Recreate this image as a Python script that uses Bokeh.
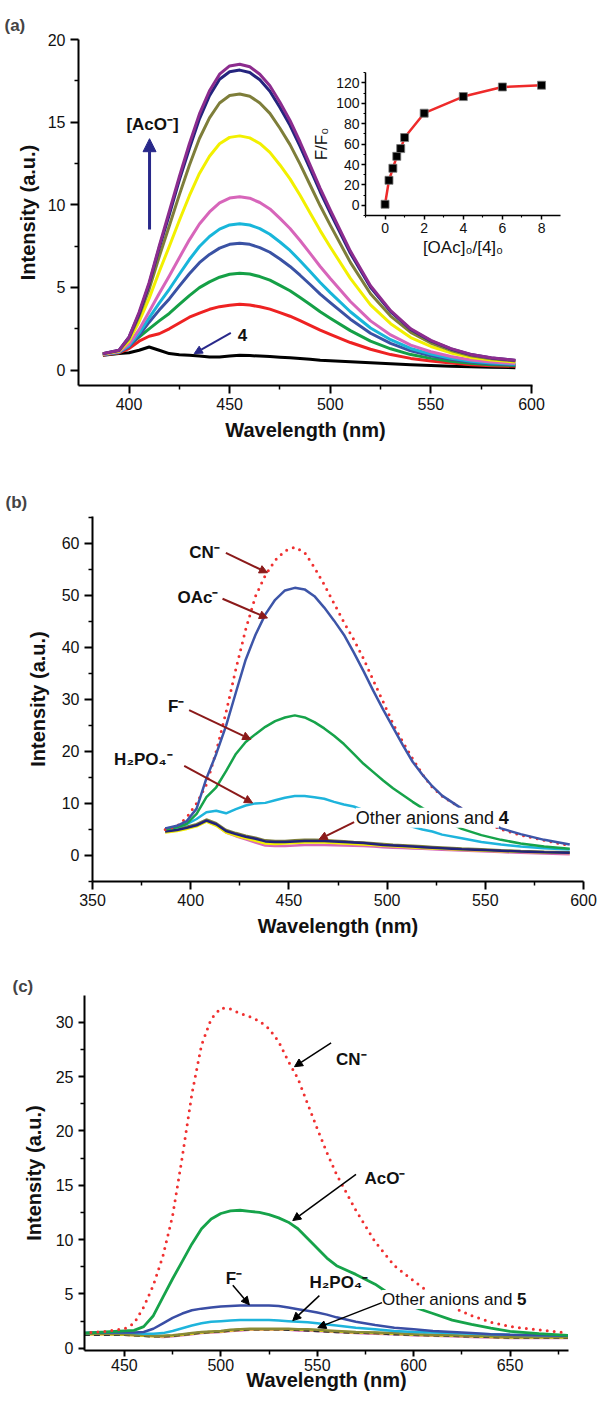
from bokeh.plotting import figure
from bokeh.models import (FixedTicker, Label, Arrow, NormalHead, GridBox, Range1d)
from bokeh.embed import file_html
from bokeh.resources import INLINE

FONT = "Liberation Sans"

# ---------------- Panel (a) : titration spectra ----------------
wl_a = [387, 395, 400, 405, 410, 415, 420, 425, 430, 435, 440, 445, 450, 455, 460,
        465, 470, 475, 480, 485, 490, 495, 500, 510, 520, 530, 540, 550, 560, 570, 580, 592]
a_black = [0.9, 1.0, 1.05, 1.2, 1.4, 1.2, 1.0, 0.93, 0.9, 0.86, 0.8, 0.8, 0.85, 0.9, 0.88, 0.85,
           0.82, 0.78, 0.75, 0.7, 0.66, 0.6, 0.56, 0.5, 0.44, 0.38, 0.33, 0.28, 0.24, 0.2, 0.17, 0.15]
a_red = [0.92, 1.04, 1.3, 1.75, 2.05, 2.2, 2.5, 2.85, 3.2, 3.45, 3.68, 3.84, 3.92, 3.98, 3.94, 3.83,
         3.69, 3.48, 3.26, 2.99, 2.71, 2.42, 2.16, 1.67, 1.26, 0.94, 0.71, 0.55, 0.43, 0.33, 0.27, 0.23]
a_green = [0.93, 1.06, 1.5, 2.0, 2.5, 2.98, 3.43, 3.97, 4.51, 4.99, 5.34, 5.62, 5.8, 5.86, 5.81, 5.66,
           5.44, 5.13, 4.8, 4.39, 3.97, 3.53, 3.14, 2.39, 1.75, 1.29, 0.94, 0.71, 0.54, 0.41, 0.33, 0.28]
a_blue = [0.94, 1.08, 1.42, 2.09, 2.9, 3.63, 4.31, 5.08, 5.83, 6.5, 7.0, 7.38, 7.61, 7.68, 7.61, 7.41,
          7.13, 6.72, 6.27, 5.74, 5.18, 4.6, 4.08, 3.08, 2.23, 1.62, 1.17, 0.87, 0.65, 0.49, 0.39, 0.32]
a_cyan = [0.95, 1.09, 1.48, 2.24, 3.16, 4.05, 4.89, 5.8, 6.69, 7.48, 8.08, 8.53, 8.78, 8.86, 8.78, 8.56,
          8.22, 7.75, 7.24, 6.62, 5.97, 5.3, 4.69, 3.53, 2.55, 1.84, 1.31, 0.97, 0.72, 0.54, 0.43, 0.35]
a_pink = [0.95, 1.11, 1.57, 2.45, 3.53, 4.63, 5.69, 6.8, 7.88, 8.84, 9.57, 10.12, 10.41, 10.49, 10.4, 10.14,
          9.75, 9.18, 8.57, 7.84, 7.06, 6.27, 5.54, 4.15, 2.98, 2.13, 1.51, 1.11, 0.82, 0.61, 0.49, 0.4]
a_yellow = [0.98, 1.15, 1.77, 2.93, 4.34, 5.95, 7.48, 9.05, 10.55, 11.9, 12.94, 13.69, 14.08, 14.17, 14.05, 13.71,
            13.17, 12.41, 11.57, 10.58, 9.51, 8.44, 7.45, 5.55, 3.95, 2.81, 1.97, 1.43, 1.04, 0.77, 0.61, 0.49]
a_olive = [0.99, 1.18, 1.9, 3.27, 4.9, 6.86, 8.72, 10.6, 12.39, 14.01, 15.26, 16.16, 16.61, 16.7, 16.57, 16.16,
           15.53, 14.63, 13.64, 12.46, 11.2, 9.94, 8.77, 6.52, 4.62, 3.27, 2.28, 1.64, 1.19, 0.87, 0.69, 0.55]
a_navy = [1.0, 1.2, 2.0, 3.4, 5.2, 7.4, 9.4, 11.5, 13.4, 15.2, 16.6, 17.6, 18.05, 18.15, 18.0, 17.56,
          16.87, 15.89, 14.81, 13.54, 12.17, 10.79, 9.52, 7.07, 5.01, 3.54, 2.46, 1.77, 1.28, 0.94, 0.74, 0.59]
a_purple = [1.0, 1.2, 2.0, 3.5, 5.3, 7.5, 9.6, 11.7, 13.7, 15.5, 16.9, 17.9, 18.4, 18.5, 18.35, 17.9,
            17.2, 16.2, 15.1, 13.8, 12.4, 11.0, 9.7, 7.2, 5.1, 3.6, 2.5, 1.8, 1.3, 0.95, 0.75, 0.6]
a_series = [a_black, a_red, a_green, a_blue, a_cyan, a_pink, a_yellow, a_olive, a_navy, a_purple]
a_colors = ["#000000", "#EE2222", "#15A046", "#3A52A4", "#18B6DA", "#D765BA",
            "#F2F000", "#7E7E3A", "#24247E", "#8C2C8E"]

# inset (a)
ratio = [0, 0.2, 0.4, 0.6, 0.8, 1, 2, 4, 6, 8]
f_f0 = [1, 24.5, 36.3, 48, 55.6, 66.4, 90.3, 106.6, 116, 117.7]

# ---------------- Panel (b) : anion screening, compound 4 ----------------
wl_b = [387, 393, 398, 403, 408, 413, 418, 423, 428, 433, 438, 443, 448, 453, 458, 463, 468, 473,
        478, 483, 488, 493, 498, 503, 508, 513, 518, 523, 528, 538, 548, 558, 568, 580, 593]
b_cn = [5.0, 5.6, 7.3, 10.0, 13.6, 20.0, 27.5, 35.8, 43.4, 49.8, 53.8, 56.7, 58.5, 59.2, 58.2, 55.3, 52.0, 48.4,
        44.8, 41.5, 37.8, 33.6, 29.5, 25.3, 21.8, 18.6, 15.6, 13.1, 11.4, 9.0, 6.7, 5.0, 3.9, 2.9, 1.9]
b_oac = [5.2, 5.7, 6.6, 9.0, 14.8, 19.5, 24.9, 31.3, 37.6, 42.4, 46.3, 49.1, 50.9, 51.4, 51.1, 49.8, 47.6, 45.1,
         42.4, 39.0, 35.4, 31.6, 28.0, 24.6, 21.2, 18.0, 15.5, 13.3, 11.5, 9.0, 7.0, 5.2, 4.1, 3.0, 2.1]
b_f = [5.0, 5.4, 6.1, 8.0, 11.2, 13.1, 16.2, 19.5, 21.8, 23.3, 24.7, 25.8, 26.5, 26.9, 26.5, 25.6, 24.4, 23.0,
       21.4, 19.5, 17.6, 16.0, 14.4, 12.9, 11.6, 10.3, 9.1, 8.0, 7.0, 5.1, 3.9, 3.0, 2.3, 1.7, 1.3]
b_h2po4 = [5.2, 5.4, 6.0, 7.0, 8.3, 8.6, 8.1, 8.9, 9.6, 10.0, 10.1, 10.6, 11.1, 11.4, 11.4, 11.2, 10.9, 10.3,
           9.8, 9.4, 8.7, 8.0, 7.3, 6.7, 6.1, 5.5, 5.0, 4.6, 4.0, 3.3, 2.6, 2.1, 1.7, 1.4, 1.15]
b_other_pink = [4.5, 4.8, 5.2, 5.7, 6.6, 5.8, 4.4, 3.7, 3.1, 2.5, 1.9, 1.8, 1.8, 1.9, 2.0, 2.0, 2.0, 1.95,
                1.9, 1.85, 1.8, 1.7, 1.6, 1.5, 1.45, 1.35, 1.3, 1.2, 1.1, 0.95, 0.8, 0.65, 0.5, 0.4, 0.25]
b_other_yellow = [4.4, 4.7, 5.1, 5.6, 6.5, 5.7, 4.4, 3.8, 3.3, 2.8, 2.3, 2.2, 2.3, 2.4, 2.5, 2.5, 2.5, 2.4,
                  2.3, 2.2, 2.1, 2.0, 1.85, 1.75, 1.65, 1.55, 1.45, 1.35, 1.3, 1.1, 0.95, 0.8, 0.7, 0.55, 0.45]
b_other_olive = [4.8, 5.1, 5.5, 6.0, 6.9, 6.2, 4.9, 4.3, 3.8, 3.4, 2.9, 2.8, 2.8, 2.9, 3.0, 3.0, 2.95, 2.85,
                 2.75, 2.6, 2.5, 2.35, 2.2, 2.05, 1.95, 1.85, 1.75, 1.65, 1.55, 1.35, 1.2, 1.0, 0.85, 0.7, 0.6]
b_other_navy = [4.6, 4.9, 5.3, 5.8, 6.7, 6.0, 4.7, 4.1, 3.6, 3.2, 2.7, 2.6, 2.6, 2.7, 2.8, 2.8, 2.8, 2.7,
                2.6, 2.5, 2.4, 2.2, 2.0, 1.9, 1.8, 1.7, 1.6, 1.5, 1.4, 1.2, 1.05, 0.9, 0.75, 0.6, 0.5]

# ---------------- Panel (c) : anion screening, compound 5 ----------------
wl_c = [429, 440, 450, 455, 460, 465, 470, 475, 480, 485, 490, 495, 500, 505, 510, 515, 520, 525,
        530, 535, 540, 545, 550, 555, 560, 570, 580, 590, 600, 610, 620, 630, 640, 650, 665, 680]
c_cn = [1.4, 1.55, 1.8, 2.3, 3.8, 5.8, 8.5, 12.2, 17.6, 23.4, 27.9, 30.3, 31.3, 31.2, 30.8, 30.5, 30.1, 29.4,
        28.2, 26.4, 24.8, 22.5, 20.2, 18.0, 16.0, 12.7, 9.8, 7.6, 6.2, 4.9, 3.8, 3.0, 2.4, 2.0, 1.7, 1.4]
c_aco = [1.4, 1.5, 1.6, 1.65, 2.0, 3.0, 4.7, 6.4, 8.0, 9.6, 11.0, 11.9, 12.4, 12.65, 12.7, 12.6, 12.5, 12.3,
         12.0, 11.6, 11.0, 10.1, 9.2, 8.3, 7.6, 6.8, 5.9, 4.7, 3.8, 3.2, 2.6, 2.2, 1.85, 1.55, 1.35, 1.2]
c_f = [1.4, 1.45, 1.45, 1.45, 1.5, 1.8, 2.3, 2.8, 3.2, 3.5, 3.65, 3.75, 3.85, 3.9, 3.95, 3.95, 3.95, 3.95,
       3.9, 3.75, 3.6, 3.45, 3.3, 3.1, 2.85, 2.45, 2.15, 1.9, 1.75, 1.6, 1.5, 1.4, 1.3, 1.25, 1.2, 1.15]
c_h2po4 = [1.4, 1.45, 1.45, 1.4, 1.35, 1.35, 1.4, 1.6, 1.85, 2.1, 2.3, 2.45, 2.5, 2.55, 2.6, 2.6, 2.6, 2.6,
           2.55, 2.5, 2.45, 2.4, 2.3, 2.2, 2.1, 1.9, 1.75, 1.6, 1.5, 1.45, 1.4, 1.35, 1.3, 1.25, 1.2, 1.15]
c_other_black = [1.25, 1.25, 1.25, 1.2, 1.15, 1.1, 1.1, 1.15, 1.25, 1.35, 1.45, 1.5, 1.55, 1.65, 1.7, 1.75, 1.75, 1.75,
                 1.75, 1.7, 1.7, 1.65, 1.6, 1.55, 1.5, 1.45, 1.4, 1.3, 1.25, 1.2, 1.15, 1.1, 1.05, 1.0, 1.0, 1.0]
c_other_pink = [1.3, 1.3, 1.25, 1.2, 1.15, 1.1, 1.05, 1.1, 1.2, 1.3, 1.4, 1.45, 1.5, 1.6, 1.65, 1.7, 1.7, 1.7,
                1.7, 1.7, 1.65, 1.65, 1.6, 1.55, 1.5, 1.4, 1.35, 1.3, 1.2, 1.15, 1.1, 1.05, 1.0, 0.95, 0.95, 0.95]
c_other_yellow = [1.3, 1.3, 1.25, 1.2, 1.15, 1.1, 1.1, 1.15, 1.25, 1.35, 1.45, 1.5, 1.55, 1.65, 1.7, 1.75, 1.75, 1.75,
                  1.75, 1.75, 1.7, 1.7, 1.65, 1.6, 1.55, 1.45, 1.4, 1.35, 1.25, 1.2, 1.15, 1.1, 1.05, 1.0, 1.0, 1.0]
c_other_olive = [1.35, 1.35, 1.3, 1.25, 1.2, 1.15, 1.15, 1.2, 1.3, 1.4, 1.5, 1.55, 1.6, 1.7, 1.75, 1.8, 1.8, 1.8,
                 1.8, 1.8, 1.75, 1.75, 1.7, 1.65, 1.6, 1.5, 1.45, 1.4, 1.3, 1.25, 1.2, 1.15, 1.1, 1.05, 1.05, 1.05]

# tick lists
a_xticks = [400, 450, 500, 550, 600]
a_xminor = [425, 475, 525, 575]
a_yticks = [0, 5, 10, 15, 20]
a_yminor = [2.5, 7.5, 12.5, 17.5]
in_xticks = [0, 2, 4, 6, 8]
in_xminor = [-1, 1, 3, 5, 7]
in_yticks = [0, 20, 40, 60, 80, 100, 120]
in_yminor = [-10, 10, 30, 50, 70, 90, 110, 130]
b_xticks = [350, 400, 450, 500, 550, 600]
b_xminor = [375, 425, 475, 525, 575]
b_yticks = [0, 10, 20, 30, 40, 50, 60]
b_yminor = [-5, 5, 15, 25, 35, 45, 55, 65]
c_xticks = [450, 500, 550, 600, 650]
c_xminor = [475, 525, 575, 625, 675]
c_yticks = [0, 5, 10, 15, 20, 25, 30]
c_yminor = [2.5, 7.5, 12.5, 17.5, 22.5, 27.5]


def style_axes(p, xt, xm, yt, ym, tick_size="16px", lab_size="20px", lab_style="bold",
               tick_out=8, minor_out=4, lw=2, xstand=6, ystand=8):
    for ax, t, m in ((p.xaxis[0], xt, xm), (p.yaxis[0], yt, ym)):
        ax.ticker = FixedTicker(ticks=t, minor_ticks=m)
        ax.axis_line_width = lw
        ax.major_tick_line_width = lw
        ax.minor_tick_line_width = lw * 0.75
        ax.major_tick_in = 0
        ax.major_tick_out = tick_out
        ax.minor_tick_in = 0
        ax.minor_tick_out = minor_out
        ax.major_label_text_font = FONT
        ax.major_label_text_font_size = tick_size
        ax.major_label_text_color = "#111111"
        ax.axis_label_text_font = FONT
        ax.axis_label_text_font_size = lab_size
        ax.axis_label_text_font_style = lab_style
        ax.axis_label_text_color = "#111111"
    p.xaxis[0].major_label_standoff = 4
    p.yaxis[0].major_label_standoff = 5
    p.xaxis[0].axis_label_standoff = xstand
    p.yaxis[0].axis_label_standoff = ystand
    p.xgrid.visible = False
    p.ygrid.visible = False
    p.outline_line_color = None


def base_fig(w, h, xr, yr, ml, mr, mt, mb):
    return figure(width=w, height=h, x_range=Range1d(*xr), y_range=Range1d(*yr),
                  output_backend="svg", toolbar_location=None, frame_align=False,
                  min_border_left=ml, min_border_right=mr, min_border_top=mt, min_border_bottom=mb,
                  x_axis_label="Wavelength (nm)", y_axis_label="Intensity (a.u.)")


def set_title(p, text, offset, standoff):
    p.title.text = text
    p.title.text_font = FONT
    p.title.text_font_size = "17px"
    p.title.text_font_style = "bold"
    p.title.align = "left"
    p.title.offset = offset
    p.title.standoff = standoff


def label(p, x, y, text, size="17px", bold=True, align="left", bg=None, x_offset=0):
    lab = Label(x=x, y=y, text=text, text_font=FONT, text_font_size=size,
                text_font_style="bold" if bold else "normal", text_align=align,
                text_baseline="middle", text_color="#111111", x_offset=x_offset)
    if bg is not None:
        lab.background_fill_color = bg
    p.add_layout(lab)


def arrow(p, start, end, color, width, head):
    p.add_layout(Arrow(end=NormalHead(size=head, fill_color=color, line_color=color, line_width=1),
                       x_start=start[0], y_start=start[1], x_end=end[0], y_end=end[1],
                       line_color=color, line_width=width))


# ---------------- figure (a) ----------------
pa = base_fig(600, 462, (374.9, 600.5), (-0.93, 20.0), 78, 68, 39, 77)
style_axes(pa, a_xticks, a_xminor, a_yticks, a_yminor, ystand=6)
set_title(pa, "(a)", -74, 9)
for ys, col in zip(a_series, a_colors):
    pa.line(wl_a, ys, line_color=col, line_width=3, line_join="round")
label(pa, 411.7, 14.86, "[AcO\u207b]", align="center")
arrow(pa, (410.2, 8.5), (410.2, 14.0), "#28288A", 3, 13)
label(pa, 456.4, 2.15, "4", align="center")
arrow(pa, (450.6, 2.26), (432.4, 1.0), "#28288A", 2, 8)

# inset: a transparent overlay of the same size as figure (a)
pin = figure(width=600, height=462, x_range=Range1d(-1, 8.97), y_range=Range1d(-10, 130.2),
             output_backend="svg", toolbar_location=None, frame_align=False,
             min_border_left=365, min_border_right=40, min_border_top=72, min_border_bottom=247,
             x_axis_label="[OAc]\u2080/[4]\u2080", y_axis_label="F/F\u2080")
style_axes(pin, in_xticks, in_xminor, in_yticks, in_yminor, tick_size="14px", lab_size="17px",
           lab_style="normal", tick_out=4, minor_out=2, lw=1.5, xstand=2, ystand=2)
pin.xaxis[0].major_label_standoff = 3
pin.yaxis[0].major_label_standoff = 2
pin.background_fill_alpha = 0
pin.border_fill_alpha = 0
pin.line(ratio, f_f0, line_color="#EE2A2A", line_width=2.5)
pin.scatter(ratio, f_f0, marker="square", size=8, fill_color="black", line_color="#777777", line_width=0.8)

# ---------------- figure (b) ----------------
pb = base_fig(600, 490, (350, 600), (-5, 65.1), 92, 17, 54, 71)
style_axes(pb, b_xticks, b_xminor, b_yticks, b_yminor, ystand=10)
set_title(pb, "(b)", -87, 10)
for ys, col in ((b_other_pink, "#D868B8"), (b_other_yellow, "#F2F000"), (b_other_olive, "#7E7E3A"),
                (b_other_navy, "#22227A")):
    pb.line(wl_b, ys, line_color=col, line_width=2.5)
pb.line(wl_b, b_h2po4, line_color="#1EB4DC", line_width=2.5)
pb.line(wl_b, b_f, line_color="#16A34A", line_width=2.5)
pb.line(wl_b, b_cn, line_color="#F03030", line_width=3, line_dash="0 7", line_cap="round")
pb.line(wl_b, b_oac, line_color="#3D55A8", line_width=2.5)
DR = "#8B1A1A"
label(pb, 399.2, 58.1, "CN\u207b")
arrow(pb, (417.9, 58.1), (439.1, 54.3), DR, 2, 8)
label(pb, 393.3, 49.5, "OAc\u207b")
arrow(pb, (416.2, 49.3), (439.1, 45.6), DR, 2, 8)
label(pb, 388.5, 28.7, "F\u207b")
arrow(pb, (399.2, 27.9), (430.6, 22.3), DR, 2, 8)
label(pb, 361.0, 18.4, "H\u2082PO\u2084\u207b")
arrow(pb, (396.7, 17.2), (431.5, 10.1), DR, 2, 8)
label(pb, 484.1, 7.24, "Other anions and ", size="18px", bold=False, bg="white")
label(pb, 484.1, 7.24, "4", size="18px", bold=True, bg="white", x_offset=143)
arrow(pb, (483.2, 6.4), (465.4, 3.1), DR, 2, 8)

# ---------------- figure (c) ----------------
pc = base_fig(600, 447, (429.3, 680.3), (-0.2, 32.45), 84, 32, 43, 49)
style_axes(pc, c_xticks, c_xminor, c_yticks, c_yminor, tick_out=6, ystand=8, xstand=-5)
pc.xaxis[0].major_label_standoff = 2
set_title(pc, "(c)", -72, 0)
for ys, col, dash in ((c_other_pink, "#D868B8", "solid"), (c_other_yellow, "#F2F000", "solid"),
                      (c_other_black, "#333333", "6 4"), (c_other_olive, "#8A8A36", "solid")):
    pc.line(wl_c, ys, line_color=col, line_width=2.5, line_dash=dash)
pc.line(wl_c, c_h2po4, line_color="#1EB4DC", line_width=2.5)
pc.line(wl_c, c_f, line_color="#3A4EA5", line_width=2.5)
pc.line(wl_c, c_aco, line_color="#16A34A", line_width=2.8)
pc.line(wl_c, c_cn, line_color="#F03030", line_width=3, line_dash="0 7", line_cap="round")
label(pc, 559.7, 26.6, "CN\u207b")
arrow(pc, (557.2, 28.1), (538.2, 25.9), "black", 1.5, 8)
label(pc, 574.5, 15.6, "AcO\u207b")
arrow(pc, (570.1, 16.0), (537.3, 11.75), "black", 1.5, 8)
label(pc, 502.5, 6.4, "F\u207b")
arrow(pc, (506.2, 5.8), (514.8, 4.0), "black", 1.5, 8)
label(pc, 546.0, 6.1, "H\u2082PO\u2084\u207b")
arrow(pc, (551.1, 4.85), (537.3, 2.55), "black", 1.5, 8)
label(pc, 583.6, 4.5, "Other anions and ", size="17px", bold=False, bg="white")
label(pc, 583.6, 4.5, "5", size="17px", bold=True, bg="white", x_offset=135)
arrow(pc, (583.6, 4.2), (550.3, 1.9), "black", 1.5, 8)

layout = GridBox(children=[(pa, 0, 0), (pin, 0, 0), (pb, 1, 0), (pc, 2, 0)], spacing=0)

open("out.html", "w").write(file_html(layout, INLINE))
